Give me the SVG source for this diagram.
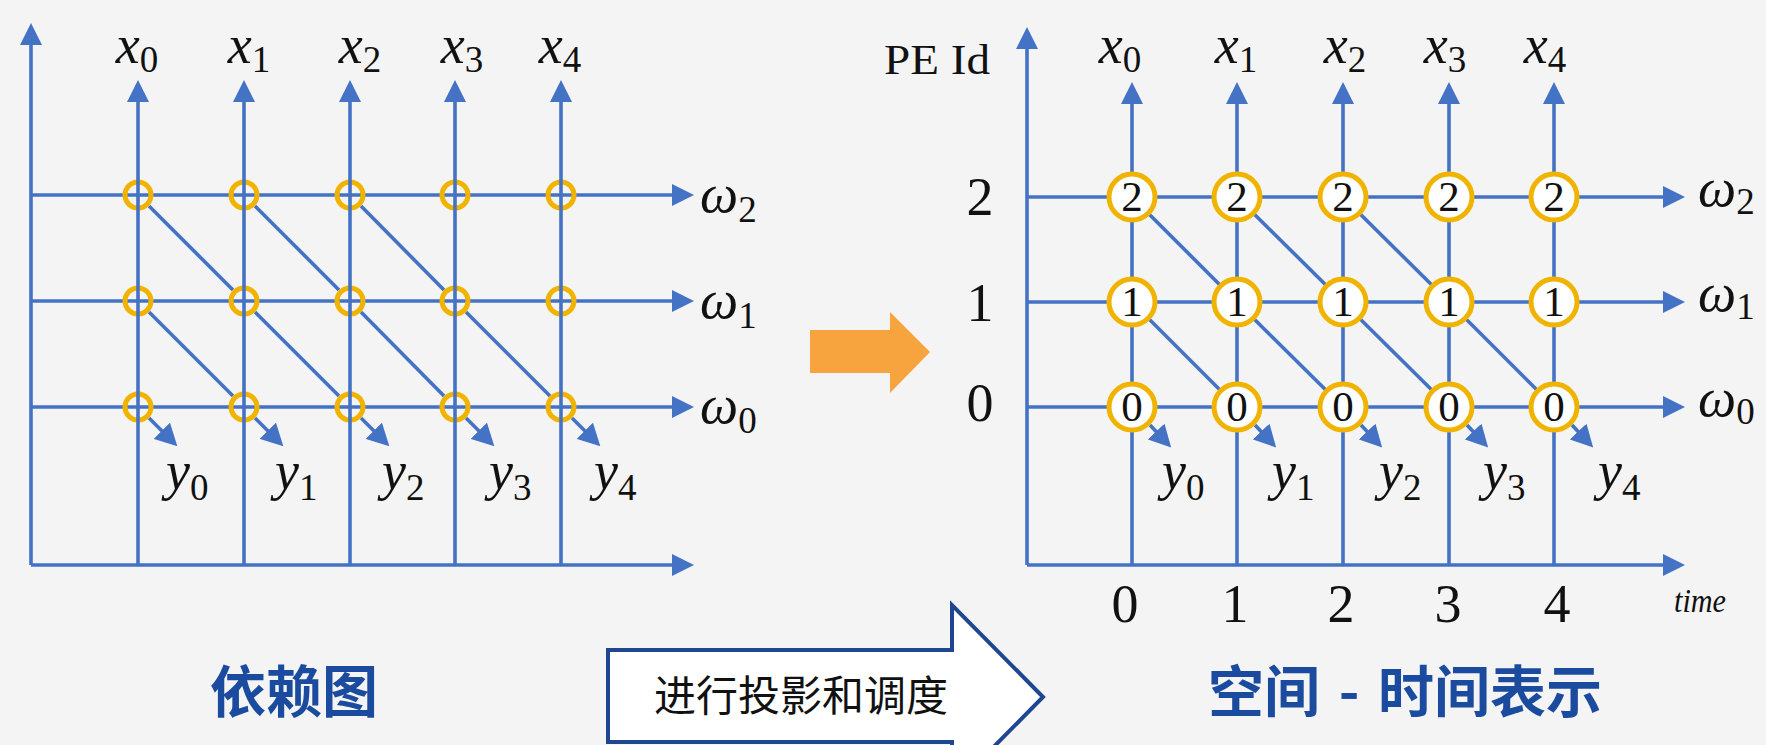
<svg xmlns="http://www.w3.org/2000/svg" width="1766" height="745" viewBox="0 0 1766 745">
<defs>
<style>
.ln{stroke:#4472C4;stroke-width:3.6;fill:none}
.ar{marker-end:url(#ah)}
.ay{marker-end:url(#ahd)}
.ring{fill:none;stroke:#F0B400;stroke-width:5}
.ringw{fill:#ffffff;stroke:#F0B400;stroke-width:5}
.mi{font-family:"Liberation Serif",serif;font-style:italic;font-size:54px;fill:#111}
.mim{text-anchor:middle}
.sub{font-style:normal;font-size:37px}
.num{font-family:"Liberation Serif",serif;font-size:54px;fill:#111;text-anchor:middle}
.nd{font-family:"Liberation Serif",serif;font-size:43px;fill:#111;text-anchor:middle}
.ttl{font-family:"Noto Sans CJK SC",sans-serif;font-weight:bold;font-size:56px;fill:#1A4B9F;text-anchor:middle}
.lbl{font-family:"Noto Sans CJK SC",sans-serif;font-size:42px;fill:#111;text-anchor:middle}
</style>
<marker id="ah" markerUnits="userSpaceOnUse" markerWidth="22" markerHeight="22" refX="14" refY="11" orient="auto"><path d="M0,0 L22,11 L0,22 z" fill="#4472C4"/></marker>
<marker id="ahd" markerUnits="userSpaceOnUse" markerWidth="22" markerHeight="23" refX="13" refY="11.5" orient="auto"><path d="M0,0 L22,11.5 L0,23 z" fill="#4472C4"/></marker>
</defs>
<rect x="0" y="0" width="1766" height="745" fill="#F4F4F4"/>

<!-- ===== Left: dependency graph ===== -->
<g id="left-connectors">
  <line class="ln ar" x1="31" y1="565" x2="31" y2="31"/>
  <line class="ln ar" x1="31" y1="565" x2="686" y2="565"/>
  <line class="ln ar" x1="31" y1="195" x2="686" y2="195"/>
  <line class="ln ar" x1="31" y1="301" x2="686" y2="301"/>
  <line class="ln ar" x1="31" y1="407" x2="686" y2="407"/>
  <line class="ln" x1="149" y1="206" x2="233" y2="290"/>
  <line class="ln" x1="255" y1="206" x2="339" y2="290"/>
  <line class="ln" x1="361" y1="206" x2="444" y2="290"/>
  <line class="ln" x1="149" y1="312" x2="233" y2="396"/>
  <line class="ln" x1="255" y1="312" x2="339" y2="396"/>
  <line class="ln" x1="361" y1="312" x2="444" y2="396"/>
  <line class="ln" x1="466" y1="312" x2="550" y2="396"/>
  <line class="ln ay" x1="149" y1="418" x2="171" y2="440"/>
  <line class="ln ay" x1="255" y1="418" x2="277" y2="440"/>
  <line class="ln ay" x1="361" y1="418" x2="383" y2="440"/>
  <line class="ln ay" x1="466" y1="418" x2="488" y2="440"/>
  <line class="ln ay" x1="572" y1="418" x2="594" y2="440"/>
</g>
<g id="left-nodes">
  <g id="L-x0-w2"><circle class="ring" cx="138" cy="195" r="13"/></g>
  <g id="L-x1-w2"><circle class="ring" cx="244" cy="195" r="13"/></g>
  <g id="L-x2-w2"><circle class="ring" cx="350" cy="195" r="13"/></g>
  <g id="L-x3-w2"><circle class="ring" cx="455" cy="195" r="13"/></g>
  <g id="L-x4-w2"><circle class="ring" cx="561" cy="195" r="13"/></g>
  <g id="L-x0-w1"><circle class="ring" cx="138" cy="301" r="13"/></g>
  <g id="L-x1-w1"><circle class="ring" cx="244" cy="301" r="13"/></g>
  <g id="L-x2-w1"><circle class="ring" cx="350" cy="301" r="13"/></g>
  <g id="L-x3-w1"><circle class="ring" cx="455" cy="301" r="13"/></g>
  <g id="L-x4-w1"><circle class="ring" cx="561" cy="301" r="13"/></g>
  <g id="L-x0-w0"><circle class="ring" cx="138" cy="407" r="13"/></g>
  <g id="L-x1-w0"><circle class="ring" cx="244" cy="407" r="13"/></g>
  <g id="L-x2-w0"><circle class="ring" cx="350" cy="407" r="13"/></g>
  <g id="L-x3-w0"><circle class="ring" cx="455" cy="407" r="13"/></g>
  <g id="L-x4-w0"><circle class="ring" cx="561" cy="407" r="13"/></g>
</g>
<g id="left-verticals">
  <line class="ln ar" x1="138" y1="565" x2="138" y2="88"/>
  <line class="ln ar" x1="244" y1="565" x2="244" y2="88"/>
  <line class="ln ar" x1="350" y1="565" x2="350" y2="88"/>
  <line class="ln ar" x1="455" y1="565" x2="455" y2="88"/>
  <line class="ln ar" x1="561" y1="565" x2="561" y2="88"/>
</g>
<g id="left-labels">
  <text class="mi mim" x="137" y="63">x<tspan class="sub" dy="9">0</tspan></text>
  <text class="mi mim" x="249" y="63">x<tspan class="sub" dy="9">1</tspan></text>
  <text class="mi mim" x="360" y="63">x<tspan class="sub" dy="9">2</tspan></text>
  <text class="mi mim" x="462" y="63">x<tspan class="sub" dy="9">3</tspan></text>
  <text class="mi mim" x="560" y="63">x<tspan class="sub" dy="9">4</tspan></text>
  <text class="mi" x="700" y="212">ω<tspan class="sub" dy="10">2</tspan></text>
  <text class="mi" x="700" y="318">ω<tspan class="sub" dy="10">1</tspan></text>
  <text class="mi" x="700" y="423">ω<tspan class="sub" dy="10">0</tspan></text>
  <text class="mi" x="166" y="489">y<tspan class="sub" dy="11">0</tspan></text>
  <text class="mi" x="275" y="489">y<tspan class="sub" dy="11">1</tspan></text>
  <text class="mi" x="382" y="489">y<tspan class="sub" dy="11">2</tspan></text>
  <text class="mi" x="489" y="489">y<tspan class="sub" dy="11">3</tspan></text>
  <text class="mi" x="594" y="489">y<tspan class="sub" dy="11">4</tspan></text>
</g>
<g id="title-left"><text class="ttl" x="294" y="712">依赖图</text></g>

<!-- ===== Middle arrows ===== -->
<g id="orange-arrow"><polygon points="810,330 890,330 890,312 930,352 890,393 890,373 810,373" fill="#F8A43E"/></g>
<g id="projection-arrow">
  <path d="M608,650 L952,650 L952,605 L1043,697 L952,789 L952,742 L608,742 Z" fill="#ffffff" stroke="#1F4690" stroke-width="4"/>
  <text class="lbl" x="801" y="711">进行投影和调度</text>
</g>

<!-- ===== Right: space-time representation ===== -->
<g id="right-connectors">
  <line class="ln ar" x1="1027" y1="565" x2="1027" y2="35"/>
  <line class="ln ar" x1="1027" y1="565" x2="1677" y2="565"/>
  <line class="ln ar" x1="1027" y1="197" x2="1677" y2="197"/>
  <line class="ln ar" x1="1027" y1="302" x2="1677" y2="302"/>
  <line class="ln ar" x1="1027" y1="407" x2="1677" y2="407"/>
  <line class="ln ar" x1="1132" y1="565" x2="1132" y2="90"/>
  <line class="ln ar" x1="1237" y1="565" x2="1237" y2="90"/>
  <line class="ln ar" x1="1343" y1="565" x2="1343" y2="90"/>
  <line class="ln ar" x1="1449" y1="565" x2="1449" y2="90"/>
  <line class="ln ar" x1="1554" y1="565" x2="1554" y2="90"/>
  <line class="ln" x1="1132" y1="197" x2="1237" y2="302"/>
  <line class="ln" x1="1237" y1="197" x2="1343" y2="302"/>
  <line class="ln" x1="1343" y1="197" x2="1449" y2="302"/>
  <line class="ln" x1="1132" y1="302" x2="1237" y2="407"/>
  <line class="ln" x1="1237" y1="302" x2="1343" y2="407"/>
  <line class="ln" x1="1343" y1="302" x2="1449" y2="407"/>
  <line class="ln" x1="1449" y1="302" x2="1554" y2="407"/>
  <line class="ln ay" x1="1150" y1="425" x2="1165" y2="441"/>
  <line class="ln ay" x1="1255" y1="425" x2="1270" y2="441"/>
  <line class="ln ay" x1="1361" y1="425" x2="1376" y2="441"/>
  <line class="ln ay" x1="1467" y1="425" x2="1482" y2="441"/>
  <line class="ln ay" x1="1572" y1="425" x2="1587" y2="441"/>
</g>
<g id="right-nodes">
  <g id="R-x0-pe2"><circle class="ringw" cx="1132" cy="197" r="23"/><text class="nd" x="1132" y="211">2</text></g>
  <g id="R-x1-pe2"><circle class="ringw" cx="1237" cy="197" r="23"/><text class="nd" x="1237" y="211">2</text></g>
  <g id="R-x2-pe2"><circle class="ringw" cx="1343" cy="197" r="23"/><text class="nd" x="1343" y="211">2</text></g>
  <g id="R-x3-pe2"><circle class="ringw" cx="1449" cy="197" r="23"/><text class="nd" x="1449" y="211">2</text></g>
  <g id="R-x4-pe2"><circle class="ringw" cx="1554" cy="197" r="23"/><text class="nd" x="1554" y="211">2</text></g>
  <g id="R-x0-pe1"><circle class="ringw" cx="1132" cy="302" r="23"/><text class="nd" x="1132" y="316">1</text></g>
  <g id="R-x1-pe1"><circle class="ringw" cx="1237" cy="302" r="23"/><text class="nd" x="1237" y="316">1</text></g>
  <g id="R-x2-pe1"><circle class="ringw" cx="1343" cy="302" r="23"/><text class="nd" x="1343" y="316">1</text></g>
  <g id="R-x3-pe1"><circle class="ringw" cx="1449" cy="302" r="23"/><text class="nd" x="1449" y="316">1</text></g>
  <g id="R-x4-pe1"><circle class="ringw" cx="1554" cy="302" r="23"/><text class="nd" x="1554" y="316">1</text></g>
  <g id="R-x0-pe0"><circle class="ringw" cx="1132" cy="407" r="23"/><text class="nd" x="1132" y="421">0</text></g>
  <g id="R-x1-pe0"><circle class="ringw" cx="1237" cy="407" r="23"/><text class="nd" x="1237" y="421">0</text></g>
  <g id="R-x2-pe0"><circle class="ringw" cx="1343" cy="407" r="23"/><text class="nd" x="1343" y="421">0</text></g>
  <g id="R-x3-pe0"><circle class="ringw" cx="1449" cy="407" r="23"/><text class="nd" x="1449" y="421">0</text></g>
  <g id="R-x4-pe0"><circle class="ringw" cx="1554" cy="407" r="23"/><text class="nd" x="1554" y="421">0</text></g>
</g>
<g id="right-labels">
  <text x="884" y="74" font-family="Liberation Serif, serif" font-size="42" fill="#111" textLength="106" lengthAdjust="spacingAndGlyphs">PE Id</text>
  <text class="num" x="980" y="215">2</text>
  <text class="num" x="980" y="321">1</text>
  <text class="num" x="980" y="421">0</text>
  <text class="mi mim" x="1120" y="63">x<tspan class="sub" dy="9">0</tspan></text>
  <text class="mi mim" x="1236" y="63">x<tspan class="sub" dy="9">1</tspan></text>
  <text class="mi mim" x="1345" y="63">x<tspan class="sub" dy="9">2</tspan></text>
  <text class="mi mim" x="1445" y="63">x<tspan class="sub" dy="9">3</tspan></text>
  <text class="mi mim" x="1545" y="63">x<tspan class="sub" dy="9">4</tspan></text>
  <text class="mi" x="1698" y="206">ω<tspan class="sub" dy="8">2</tspan></text>
  <text class="mi" x="1698" y="311">ω<tspan class="sub" dy="8">1</tspan></text>
  <text class="mi" x="1698" y="416">ω<tspan class="sub" dy="8">0</tspan></text>
  <text class="mi" x="1162" y="489">y<tspan class="sub" dy="11">0</tspan></text>
  <text class="mi" x="1272" y="489">y<tspan class="sub" dy="11">1</tspan></text>
  <text class="mi" x="1379" y="489">y<tspan class="sub" dy="11">2</tspan></text>
  <text class="mi" x="1483" y="489">y<tspan class="sub" dy="11">3</tspan></text>
  <text class="mi" x="1598" y="489">y<tspan class="sub" dy="11">4</tspan></text>
  <text class="num" x="1125" y="622">0</text>
  <text class="num" x="1235" y="622">1</text>
  <text class="num" x="1341" y="622">2</text>
  <text class="num" x="1448" y="622">3</text>
  <text class="num" x="1557" y="622">4</text>
  <text x="1674" y="612" font-family="Liberation Serif, serif" font-style="italic" font-size="33" fill="#111" textLength="52" lengthAdjust="spacingAndGlyphs">time</text>
</g>
<g id="title-right"><text class="ttl" x="1405" y="712" style="word-spacing:6px">空间 - 时间表示</text></g>
</svg>
